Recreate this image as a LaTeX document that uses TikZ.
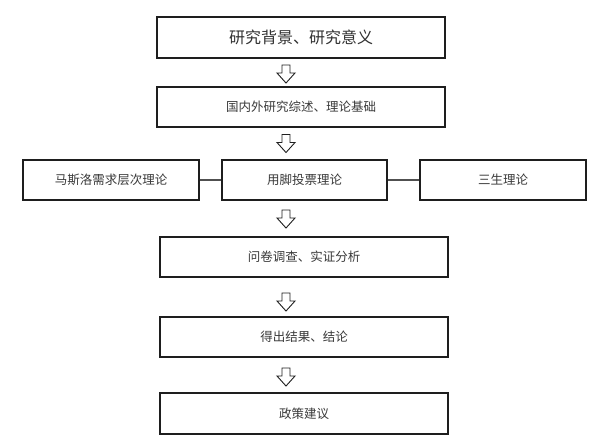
\documentclass[tikz,border=0pt]{standalone}
\usepackage{fontspec}
\newfontfamily\cjk{Noto Sans CJK SC}
\definecolor{boxline}{HTML}{1E1E1E}
\definecolor{txtgray}{HTML}{3A3A3A}
\definecolor{connline}{HTML}{505050}
\begin{document}
\begin{tikzpicture}[x=1pt,y=-1pt,
  box/.style={draw=boxline,line width=1.2pt,fill=white,inner sep=0pt,
    minimum height=40pt,text=txtgray,font=\cjk\fontsize{12.5}{14}\selectfont},
  bigtext/.style={font=\cjk\fontsize{16}{18}\selectfont,text=txtgray!85!black},
  conn/.style={draw=connline,line width=1.2pt},
  arrowline/.style={draw=boxline,line width=0.9pt,fill=white,line join=miter},
  downarrow/.pic={\path[arrowline] (-4,0) -- (4,0) -- (4,8) -- (9,8) -- (0,18) -- (-9,8) -- (-4,8) -- cycle;}
]
\useasboundingbox (0,0) rectangle (593,440);
\node[box,bigtext,minimum width=288pt,minimum height=41pt] (b1) at (301,37.5) {研究背景、研究意义};
\node[box,minimum width=288pt] (b2) at (301,107) {国内外研究综述、理论基础};
\node[box,minimum width=176pt] (L) at (111,180) {马斯洛需求层次理论};
\node[box,minimum width=165pt] (M) at (304.5,180) {用脚投票理论};
\node[box,minimum width=166pt] (R) at (503,180) {三生理论};
\node[box,minimum width=288pt] (b4) at (304,257) {问卷调查、实证分析};
\node[box,minimum width=288pt] (b5) at (304,337) {得出结果、结论};
\node[box,minimum width=288pt,minimum height=41pt] (b6) at (304,413.5) {政策建议};
\draw[conn] (L.east) -- (M.west);
\draw[conn] (M.east) -- (R.west);
\coordinate (a1) at (286,65);
\coordinate (a2) at (286,134.5);
\coordinate (a3) at (286,210);
\coordinate (a4) at (286,293);
\coordinate (a5) at (286,368);
\pic at (a1) {downarrow};
\pic at (a2) {downarrow};
\pic at (a3) {downarrow};
\pic at (a4) {downarrow};
\pic at (a5) {downarrow};
\end{tikzpicture}
\end{document}
